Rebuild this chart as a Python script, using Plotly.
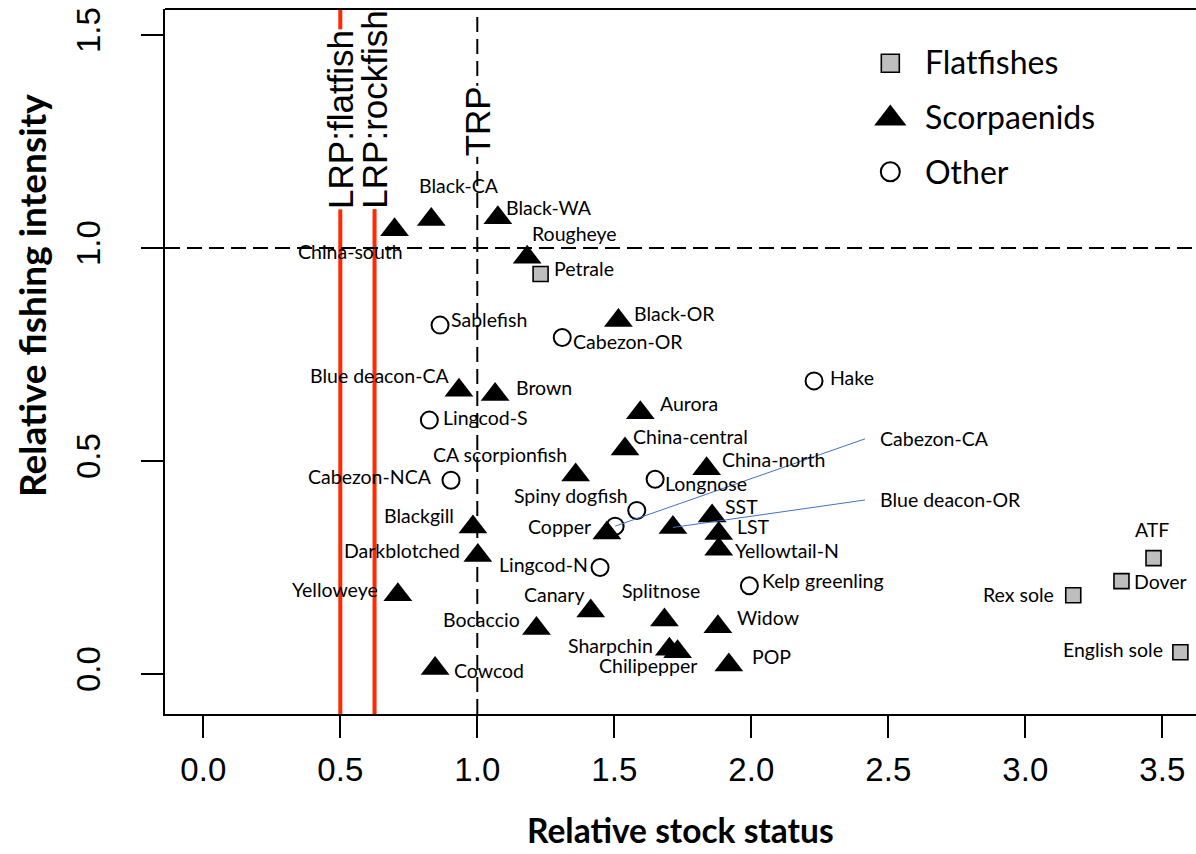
import plotly.graph_objects as go

# ---------------------------------------------------------------------------
# Stock data: relative stock status (x) and relative fishing intensity (y)
# ---------------------------------------------------------------------------
scorp_names = ["China-south", "Black-CA", "Black-WA", "Rougheye", "Black-OR",
               "Blue deacon-CA", "Brown", "Aurora", "China-central",
               "CA scorpionfish", "China-north", "Blackgill", "Copper",
               "Blue deacon-OR", "SST", "LST", "Yellowtail-N", "Darkblotched",
               "Yelloweye", "Canary", "Splitnose", "Bocaccio", "Widow",
               "Sharpchin", "Chilipepper", "POP", "Cowcod"]
scorp_status = [0.698, 0.832, 1.075, 1.182, 1.515, 0.933, 1.065, 1.595, 1.539,
                1.359, 1.837, 0.984, 1.473, 1.714, 1.857, 1.881, 1.881, 1.002,
                0.710, 1.414, 1.683, 1.216, 1.878, 1.701, 1.731, 1.918, 0.846]
scorp_intensity = [1.043, 1.067, 1.071, 0.978, 0.830, 0.666, 0.656, 0.613, 0.528,
                   0.467, 0.482, 0.345, 0.331, 0.344, 0.371, 0.330, 0.293, 0.278,
                   0.186, 0.148, 0.127, 0.107, 0.111, 0.058, 0.052, 0.021, 0.013]

flat_names = ["Petrale", "ATF", "Dover", "Rex sole", "English sole"]
flat_status = [1.231, 3.468, 3.351, 3.175, 3.566]
flat_intensity = [0.939, 0.272, 0.218, 0.185, 0.051]

other_names = ["Sablefish", "Cabezon-OR", "Hake", "Lingcod-S", "Cabezon-NCA",
               "Longnose", "Spiny dogfish", "Cabezon-CA", "Lingcod-N",
               "Kelp greenling"]
other_status = [0.864, 1.310, 2.229, 0.825, 0.904, 1.649, 1.582, 1.503, 1.448, 1.993]
other_intensity = [0.819, 0.790, 0.688, 0.596, 0.455, 0.457, 0.384, 0.347, 0.250, 0.207]

# Reference points
lrp_flatfish = 0.5
lrp_rockfish = 0.625
trp_status = 1.0
f_target = 1.0

x_tick_vals = [0.0, 0.5, 1.0, 1.5, 2.0, 2.5, 3.0, 3.5]
x_tick_text = ["0.0", "0.5", "1.0", "1.5", "2.0", "2.5", "3.0", "3.5"]
y_tick_vals = [0.0, 0.5, 1.0, 1.5]
y_tick_text = ["0.0", "0.5", "1.0", "1.5"]

legend_names = ["Flatfishes", "Scorpaenids", "Other"]

# ---------------------------------------------------------------------------
# Label placement (pixel offsets from each point: anchor, dx, dy-down)
# ---------------------------------------------------------------------------
label_pos = {
    "China-south": ("center", -44, 21.5), "Black-CA": ("center", 28, -34.4),
    "Black-WA": ("left", 9, -10.6), "Rougheye": ("left", 6, -24),
    "Petrale": ("left", 14, -5), "Sablefish": ("left", 12, -6),
    "Cabezon-OR": ("left", 12, 4), "Black-OR": ("left", 17, -7),
    "Blue deacon-CA": ("right", -10.5, -15), "Brown": ("left", 22, -7),
    "Lingcod-S": ("left", 15, -3), "Hake": ("left", 17, -3),
    "Aurora": ("left", 21, -9), "China-central": ("left", 9, -13),
    "CA scorpionfish": ("right", -10, -20.5), "Cabezon-NCA": ("right", -20, -4),
    "Longnose": ("left", 11, 4), "China-north": ("left", 16, -9.5),
    "Spiny dogfish": ("right", -10, -15), "Copper": ("right", -17, -6.5),
    "SST": ("left", 14, -9), "LST": ("left", 19, -7),
    "Yellowtail-N": ("left", 17, 1), "Blackgill": ("right", -19.5, -12),
    "Darkblotched": ("right", -19, -5), "Lingcod-N": ("right", -13, -3),
    "Kelp greenling": ("left", 14, -5), "Yelloweye": ("right", -20.5, -5.6),
    "Canary": ("right", -8, -16.6), "Splitnose": ("center", -3, -29),
    "Bocaccio": ("right", -17, -9), "Widow": ("left", 20, -9),
    "Sharpchin": ("right", -17, -4), "Chilipepper": ("center", -30, 14),
    "POP": ("left", 24, -9), "Cowcod": ("left", 20, 2),
    "ATF": ("center", -2, -29), "Dover": ("left", 13.5, 0),
    "Rex sole": ("right", -20, -1), "English sole": ("right", -18, -3),
}
# Labels placed away from crowded points, joined by a leader line
callouts = {
    "Cabezon-CA": (2.415, 0.552),
    "Blue deacon-OR": (2.415, 0.4085),
}
callout_gap = 0.06

X_RANGE = [-0.1398, 3.6230]
Y_RANGE = [-0.0939, 1.5610]

W, H = 1196, 854
M_L, M_R, M_T, M_B = 165, 0, 9, 140

LABEL_FONT = dict(family="Lato, 'Open Sans', sans-serif", size=19.5, color="black")
AXIS_FONT = dict(family="'Liberation Sans', Arial, sans-serif", size=33, color="black")
REF_FONT = dict(family="'Liberation Sans', Arial, sans-serif", size=35, color="black")
XTITLE_FONT = dict(family="Lato, 'Open Sans', sans-serif", size=33.5, color="black", weight="bold")
YTITLE_FONT = dict(family="Lato, 'Open Sans', sans-serif", size=37, color="black", weight="bold")
LEGEND_FONT = dict(family="Lato, 'Open Sans', sans-serif", size=32, color="black")

fig = go.Figure()

scorp_marker = dict(symbol="triangle-up", size=25, color="black", line=dict(width=0))
flat_marker = dict(symbol="square", size=15, color="#bebebe", line=dict(color="black", width=1.6))
other_marker = dict(symbol="circle-open", size=17, color="black", line=dict(width=2))

fig.add_trace(go.Scatter(x=other_status, y=other_intensity, mode="markers",
                         marker=other_marker, name="Other", text=other_names,
                         showlegend=False, hoverinfo="text"))
fig.add_trace(go.Scatter(x=scorp_status, y=scorp_intensity, mode="markers",
                         marker=scorp_marker, name="Scorpaenids", text=scorp_names,
                         showlegend=False, hoverinfo="text"))
fig.add_trace(go.Scatter(x=flat_status, y=flat_intensity, mode="markers",
                         marker=flat_marker, name="Flatfishes", text=flat_names,
                         showlegend=False, hoverinfo="text"))

# Legend keys on an overlay axis in plot-area fractions
legend_x_key = 0.7035
legend_x_text = 0.7351
legend_rows = [0.9230, 0.8446, 0.7692]
legend_markers = [
    dict(symbol="square", size=18, color="#bebebe", line=dict(color="black", width=1.6)),
    dict(symbol="triangle-up", size=28, color="black", line=dict(width=0)),
    dict(symbol="circle-open", size=19, color="black", line=dict(width=2)),
]
for name, ypos, mk in zip(legend_names, legend_rows, legend_markers):
    fig.add_trace(go.Scatter(x=[legend_x_key], y=[ypos], mode="markers", marker=mk,
                             xaxis="x2", yaxis="y2", showlegend=False, hoverinfo="skip",
                             name=name))
legend_text_rows = [0.9262, 0.8472, 0.7692]
annotations = []
for name, ypos in zip(legend_names, legend_text_rows):
    annotations.append(dict(x=legend_x_text, y=ypos, xref="paper", yref="paper",
                            text=name, showarrow=False, xanchor="left", yanchor="middle",
                            font=LEGEND_FONT))

# Point labels
all_names = scorp_names + flat_names + other_names
all_x = scorp_status + flat_status + other_status
all_y = scorp_intensity + flat_intensity + other_intensity
pad = 3
for name, xv, yv in zip(all_names, all_x, all_y):
    if name in label_pos:
        anchor, dx, dy = label_pos[name]
        shift = dx - pad if anchor == "left" else (dx + pad if anchor == "right" else dx)
        annotations.append(dict(x=xv, y=yv, xref="x", yref="y", text=name,
                                showarrow=False, xanchor=anchor, yanchor="middle",
                                xshift=shift, yshift=-dy, font=LABEL_FONT))

shapes = []
for name, (lx, ly) in callouts.items():
    i = all_names.index(name)
    shapes.append(dict(type="line", xref="x", yref="y", x0=all_x[i], y0=all_y[i],
                       x1=lx, y1=ly, line=dict(color="#4472c4", width=1), layer="above"))
    annotations.append(dict(x=lx + callout_gap, y=ly, xref="x", yref="y", text=name,
                            showarrow=False, xanchor="left", yanchor="middle",
                            xshift=-pad, font=LABEL_FONT))

# Reference lines
for xv in (lrp_flatfish, lrp_rockfish):
    shapes.append(dict(type="line", xref="x", yref="paper", x0=xv, x1=xv, y0=0, y1=1,
                       line=dict(color="#ff2a00", width=4), layer="below"))
shapes.append(dict(type="line", xref="x", yref="paper", x0=trp_status, x1=trp_status,
                   y0=0, y1=1, line=dict(color="black", width=2, dash="15px,7px"),
                   layer="below"))
shapes.append(dict(type="line", xref="paper", yref="y", x0=0, x1=1, y0=f_target,
                   y1=f_target, line=dict(color="black", width=2, dash="15px,7px"),
                   layer="below"))
# Top border of the plot box
shapes.append(dict(type="line", xref="paper", yref="paper", x0=0, x1=1, y0=1, y1=1,
                   line=dict(color="black", width=2)))

# Reference-point labels
annotations.append(dict(x=lrp_flatfish, y=1.089, xref="x", yref="y", text="LRP:flatfish",
                        textangle=-90, showarrow=False, xanchor="center", yanchor="bottom",
                        bgcolor="white", borderpad=0, font=REF_FONT))
annotations.append(dict(x=lrp_rockfish, y=1.089, xref="x", yref="y", text="LRP:rockfish",
                        textangle=-90, showarrow=False, xanchor="center", yanchor="bottom",
                        bgcolor="white", borderpad=0, font=REF_FONT))
annotations.append(dict(x=trp_status, y=1.2136, xref="x", yref="y", text="TRP",
                        textangle=-90, showarrow=False, xanchor="center", yanchor="bottom",
                        bgcolor="white", borderpad=0, font=REF_FONT))

# Axis titles
annotations.append(dict(x=0.5, y=-0.165, xref="paper", yref="paper",
                        text="Relative stock status", showarrow=False,
                        xanchor="center", yanchor="middle", borderpad=0, borderwidth=0,
                        font=XTITLE_FONT))
annotations.append(dict(x=-0.1300, y=0.5943, xref="paper", yref="paper",
                        text="Relative fishing intensity", showarrow=False, textangle=-90,
                        xanchor="center", yanchor="middle", borderpad=0, borderwidth=0,
                        font=YTITLE_FONT))

fig.update_layout(
    width=W, height=H,
    margin=dict(l=M_L, r=M_R, t=M_T, b=M_B, pad=0),
    paper_bgcolor="white", plot_bgcolor="white",
    showlegend=False,
    xaxis=dict(range=X_RANGE, tickvals=x_tick_vals, ticktext=x_tick_text,
               showgrid=False, zeroline=False, showline=True, linecolor="black",
               linewidth=2, ticks="outside", ticklen=22, tickwidth=1.5,
               tickcolor="black", tickfont=AXIS_FONT, ticklabelstandoff=3),
    yaxis=dict(range=Y_RANGE, tickvals=y_tick_vals, ticktext=y_tick_text,
               showgrid=False, zeroline=False, showline=True, linecolor="black",
               linewidth=2, ticks="outside", ticklen=22, tickwidth=1.5,
               tickcolor="black", tickfont=AXIS_FONT, tickangle=-90,
               ticklabelstandoff=28),
    xaxis2=dict(overlaying="x", range=[0, 1], visible=False, anchor="y2"),
    yaxis2=dict(overlaying="y", range=[0, 1], visible=False, anchor="x2"),
    shapes=shapes,
    annotations=annotations,
    font=dict(family="Lato, sans-serif", color="black"),
)

fig.write_html("out.html")
